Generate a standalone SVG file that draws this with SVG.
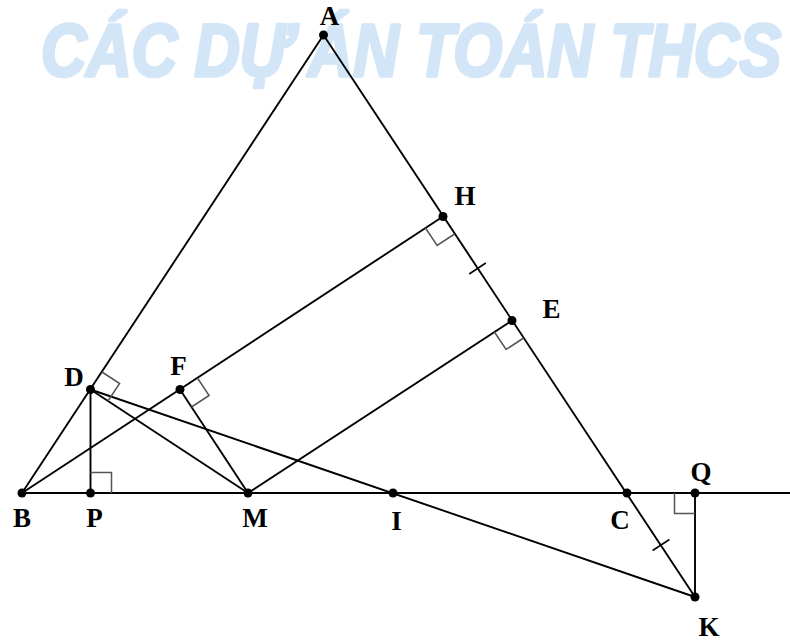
<svg xmlns="http://www.w3.org/2000/svg" width="790" height="641" viewBox="0 0 790 641">
<style>
.wm{font-family:"Liberation Sans",Arial,sans-serif;font-weight:bold;font-style:italic;font-size:74px;fill:#d3e6f7;stroke:#d3e6f7;stroke-width:3.5;stroke-linejoin:round}
.seg{stroke:#000;stroke-width:1.9;fill:none;stroke-linecap:round}
.ra{stroke:#555;stroke-width:1.5;fill:none}
.tick{stroke:#000;stroke-width:1.5}
.dot{fill:#000}
.lbl{font-family:"Liberation Serif","Times New Roman",serif;font-weight:bold;font-size:27px;fill:#000;text-anchor:middle}
</style>
<rect width="790" height="641" fill="#fff"/>
<text class="wm" x="41" y="76" textLength="740" lengthAdjust="spacingAndGlyphs">CÁC DỰ ÁN TOÁN THCS</text>
<g id="connectors">
<line class="seg" x1="323.5" y1="35" x2="22" y2="493"/>
<line class="seg" x1="323.5" y1="35" x2="695" y2="597"/>
<line class="seg" x1="22" y1="493" x2="790" y2="493"/>
<line class="seg" x1="22" y1="493" x2="443" y2="216.5"/>
<line class="seg" x1="90.5" y1="389.5" x2="90.5" y2="493"/>
<line class="seg" x1="90.5" y1="389.5" x2="248" y2="493"/>
<line class="seg" x1="90.5" y1="389.5" x2="695" y2="597"/>
<line class="seg" x1="180" y1="389.5" x2="248" y2="493"/>
<line class="seg" x1="248" y1="493" x2="512" y2="320.5"/>
<line class="seg" x1="695" y1="493" x2="695" y2="597"/>
<path class="ra" d="M90.5,472.5 H111.5 V493"/>
<path class="ra" d="M674.5,493 V513.5 H695"/>
<path class="ra" d="M102,372 L119.6,383.5 L108,401"/>
<path class="ra" d="M197.5,378 L209.1,395.5 L191.5,407"/>
<path class="ra" d="M425.5,228 L437.1,245.5 L454.6,234"/>
<path class="ra" d="M494.4,332 L506.1,349.5 L523.6,338"/>
<line class="tick" x1="469.2" y1="274" x2="485.8" y2="263"/>
<line class="tick" x1="652.6" y1="550.5" x2="669.4" y2="539.5"/>
</g>
<g id="A"><circle class="dot" cx="323.5" cy="35" r="4.5"/><text class="lbl" x="329.5" y="25">A</text></g>
<g id="B"><circle class="dot" cx="22" cy="493" r="4.5"/><text class="lbl" x="22" y="527">B</text></g>
<g id="C"><circle class="dot" cx="627" cy="493" r="4.5"/><text class="lbl" x="620" y="529">C</text></g>
<g id="D"><circle class="dot" cx="90.5" cy="389.5" r="4.5"/><text class="lbl" x="74" y="386">D</text></g>
<g id="E"><circle class="dot" cx="512" cy="320.5" r="4.5"/><text class="lbl" x="551.5" y="318">E</text></g>
<g id="F"><circle class="dot" cx="180" cy="389.5" r="4.5"/><text class="lbl" x="178.5" y="375">F</text></g>
<g id="H"><circle class="dot" cx="443" cy="216.5" r="4.5"/><text class="lbl" x="465" y="205">H</text></g>
<g id="I"><circle class="dot" cx="393" cy="493" r="4.5"/><text class="lbl" x="396.5" y="530">I</text></g>
<g id="K"><circle class="dot" cx="695" cy="597" r="4.5"/><text class="lbl" x="709" y="636">K</text></g>
<g id="M"><circle class="dot" cx="248" cy="493" r="4.5"/><text class="lbl" x="255" y="527">M</text></g>
<g id="P"><circle class="dot" cx="90.5" cy="493" r="4.5"/><text class="lbl" x="94.5" y="527">P</text></g>
<g id="Q"><circle class="dot" cx="695" cy="493" r="4.5"/><text class="lbl" x="701" y="481">Q</text></g>
</svg>
